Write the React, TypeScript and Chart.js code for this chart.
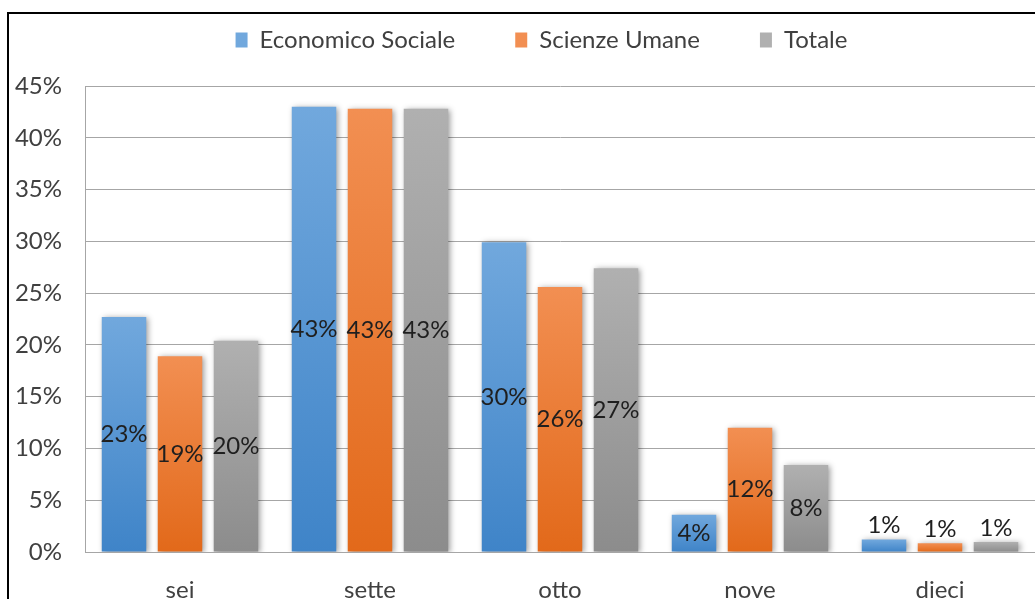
import React, { useEffect, useRef } from 'react';
import { Chart, registerables } from 'chart.js';

Chart.register(...registerables);

const categories = ['sei', 'sette', 'otto', 'nove', 'dieci'];
const seriesNames = ['Economico Sociale', 'Scienze Umane', 'Totale'];
const economicoSociale = [22.7, 43.0, 29.9, 3.6, 1.2];
const scienzeUmane = [18.9, 42.8, 25.6, 12.0, 0.84];
const totale = [20.4, 42.8, 27.4, 8.4, 0.97];
const yTicks = [0, 5, 10, 15, 20, 25, 30, 35, 40, 45];

const FONT = 'Lato, "Open Sans", sans-serif';

const palette = [
  { top: '#71a8dd', bottom: '#3f84c8', flat: '#5b9bd5' },
  { top: '#f28f52', bottom: '#e2691a', flat: '#ed7d31' },
  { top: '#b0b0b0', bottom: '#8c8c8c', flat: '#a5a5a5' },
];

function gradientFor(idx: number) {
  return (ctx: any) => {
    const p = palette[idx];
    if (ctx.type !== 'data') return p.flat;
    const chart = ctx.chart;
    const y = chart.scales && chart.scales.y;
    if (!y || !chart.chartArea) return p.flat;
    const y0 = y.getPixelForValue(0);
    const y1 = y.getPixelForValue(ctx.raw);
    if (!isFinite(y0) || !isFinite(y1) || y0 === y1) return p.flat;
    const g = chart.ctx.createLinearGradient(0, y1, 0, y0);
    g.addColorStop(0, p.top);
    g.addColorStop(1, p.bottom);
    return g;
  };
}

const shadowPlugin = {
  id: 'barShadow',
  beforeDatasetsDraw(chart: any) {
    const c = chart.ctx;
    c.save();
    c.shadowColor = 'rgba(0,0,0,0.4)';
    c.shadowBlur = 6;
    c.shadowOffsetX = 2;
    c.shadowOffsetY = 1;
  },
  afterDatasetsDraw(chart: any) {
    chart.ctx.restore();
  },
};

const labelPlugin = {
  id: 'barLabels',
  afterDraw(chart: any) {
    const c = chart.ctx;
    c.save();
    c.font = `24px ${FONT}`;
    c.fillStyle = '#1f1f1f';
    c.textAlign = 'center';
    c.textBaseline = 'middle';
    chart.data.datasets.forEach((ds: any, di: number) => {
      const meta = chart.getDatasetMeta(di);
      meta.data.forEach((bar: any, i: number) => {
        const v = ds.data[i] as number;
        const text = Math.round(v) + '%';
        const h = bar.base - bar.y;
        const y = h > 30 ? (bar.y + bar.base) / 2 : bar.y - 14;
        c.fillText(text, bar.x, y);
      });
    });
    c.restore();
  },
};

export default function App() {
  const ref = useRef<HTMLCanvasElement | null>(null);

  useEffect(() => {
    if (!ref.current) return;
    const series = [economicoSociale, scienzeUmane, totale];
    const chart = new Chart(ref.current, {
      type: 'bar',
      data: {
        labels: categories,
        datasets: series.map((d, i) => ({
          label: seriesNames[i],
          data: d,
          backgroundColor: gradientFor(i),
          borderWidth: 0,
          categoryPercentage: 0.884,
          barPercentage: 0.795,
        })),
      },
      options: {
        animation: false,
        responsive: false,
        maintainAspectRatio: false,
        layout: { padding: { top: -46, left: 0, right: 35, bottom: 42 } },
        plugins: {
          tooltip: { enabled: false },
          legend: {
            position: 'top',
            weight: 1000,
            labels: {
              boxWidth: 12,
              boxHeight: 15,
              padding: 60,
              color: '#404040',
              font: { family: FONT, size: 24 },
            },
          },
          title: {
            display: true,
            text: ' ',
            position: 'top',
            weight: 500,
            padding: 6,
            font: { size: 10 },
          },
        },
        scales: {
          x: {
            grid: { display: false, drawTicks: false },
            border: { display: true, color: '#a6a6a6', width: 1 },
            ticks: {
              color: '#404040',
              padding: 24,
              font: { family: FONT, size: 24 },
              maxRotation: 0,
            },
            afterFit: (s: any) => {
              s.height = 60;
            },
          },
          y: {
            min: 0,
            max: 45,
            grid: { color: '#a6a6a6', lineWidth: 1, drawTicks: false },
            border: { display: true, color: '#a6a6a6', width: 1 },
            ticks: {
              stepSize: 5,
              color: '#404040',
              padding: 23,
              font: { family: FONT, size: 24 },
              callback: (v: any) => (yTicks.includes(Number(v)) ? v + '%' : ''),
            },
            afterFit: (s: any) => {
              s.width = 76;
            },
          },
          yPad: {
            type: 'linear',
            position: 'right',
            display: true,
            grid: { display: false, drawTicks: false },
            border: { display: false },
            ticks: { display: false },
            afterFit: (s: any) => {
              s.width = 39;
            },
          },
        },
      },
      plugins: [shadowPlugin, labelPlugin],
    } as any);
    return () => chart.destroy();
  }, []);

  return (
    <div
      style={{
        position: 'fixed',
        left: 0,
        top: 0,
        width: 1035,
        height: 599,
        overflow: 'hidden',
        background: '#fff',
      }}
    >
      <div
        style={{
          position: 'absolute',
          left: 7,
          top: 12,
          width: 1100,
          height: 700,
          border: '2px solid #000',
        }}
      >
        <canvas
          ref={ref}
          width={1100}
          height={640}
          style={{ position: 'absolute', left: 0, top: 0, width: 1100, height: 640 }}
        />
      </div>
    </div>
  );
}
